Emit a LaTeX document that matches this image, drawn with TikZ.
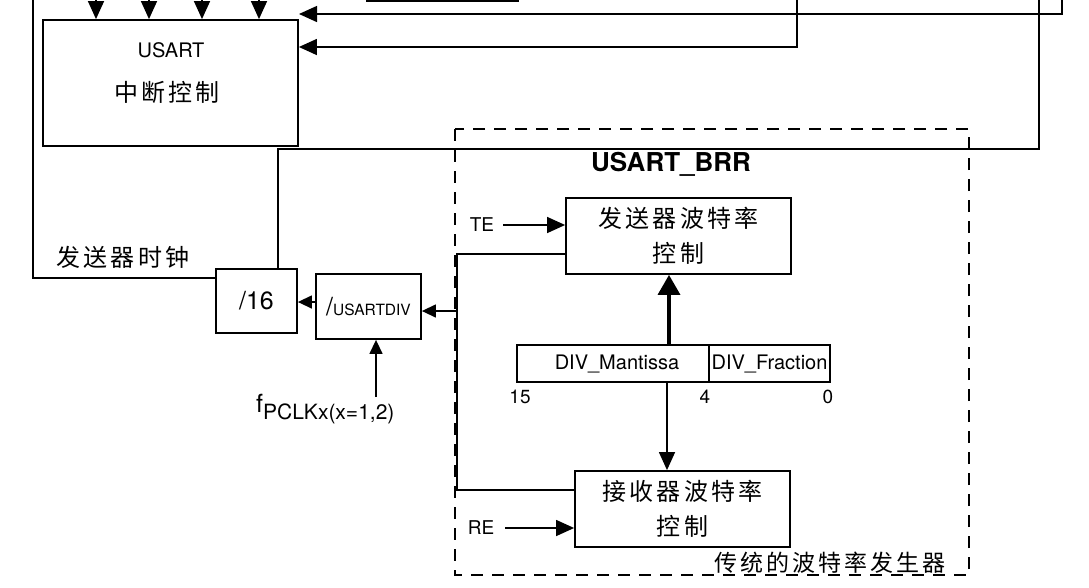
\documentclass[tikz,border=0pt]{standalone}
\usepackage{fontspec}
\setmainfont{TeX Gyre Heros}
\newfontfamily\cjk[LetterSpace=13]{Noto Sans CJK SC}
\usetikzlibrary{arrows.meta}
\tikzset{
  ln/.style={line width=1.4pt},
  box/.style={draw, line width=1.8pt, inner sep=0pt, align=center},
  arr/.style={ln, -{Triangle[length=18pt,width=16pt]}},
  sarr/.style={ln, -{Triangle[length=14pt,width=13pt]}},
  tharr/.style={line width=3.5pt, -{Triangle[length=20pt,width=22pt]}},
  lbl/.style={inner sep=0pt, font=\fontsize{20}{23}\selectfont},
  numlbl/.style={inner sep=0pt, font=\fontsize{19}{21}\selectfont},
  cjklbl/.style={inner sep=0pt, font=\cjk\fontsize{24}{27}\selectfont},
  cjkbox/.style={box, font=\cjk\fontsize{24}{35}\selectfont},
  dbox/.style={line width=2.5pt, dash pattern=on 12pt off 9pt}
}
\begin{document}
\begin{tikzpicture}[x=1pt,y=-1pt]
\useasboundingbox (0,0) rectangle (1089,587);
\clip (0,0) rectangle (1089,587);
\fill[white] (0,0) rectangle (1089,587);

% dashed generator frame
\draw[dbox] (455,129) rectangle (969,575);

% boxes
\node[box, minimum width=255pt, minimum height=126pt] (intr) at (170.5,83) {};
\node[lbl] (usartT) at (171,50) {USART};
\node[cjklbl] (zdkz) at (167,92) {中断控制};
\node[box, minimum width=151pt, minimum height=42pt] (topbox) at (442.5,-20) {};

\node[box, minimum width=81pt, minimum height=64pt, font=\fontsize{25}{28}\selectfont] (div16) at (256.5,301) {/16};
\node[box, minimum width=105pt, minimum height=65pt] (udiv) at (368.5,306.5) {{\fontsize{25}{28}\selectfont /}{\fontsize{15.5}{18}\selectfont USARTDIV}};

\node[cjkbox, minimum width=225pt, minimum height=76pt] (tx) at (678.5,236) {发送器波特率\\控制};
\node[cjkbox, minimum width=215pt, minimum height=76pt] (rx) at (682.5,509) {接收器波特率\\控制};

\node[box, lbl, draw, line width=1.8pt, minimum width=192pt, minimum height=37pt] (mant) at (613,363.5) {\hspace*{8pt}DIV\_Mantissa};
\node[box, lbl, draw, line width=1.8pt, minimum width=121pt, minimum height=37pt] (frac) at (769.5,363.5) {DIV\_Fraction};
\node[numlbl] (b15) at (520,397) {15};
\node[numlbl] (b4) at (705,397) {4};
\node[numlbl] (b0) at (828,397) {0};

\node[inner sep=0pt, font=\bfseries\fontsize{26}{30}\selectfont] (brr) at (671,164) {USART\_BRR};
\node[numlbl] (te) at (482,225) {TE};
\node[numlbl] (re) at (481,528) {RE};
\node[cjklbl] (fsclk) at (123,257) {发送器时钟};
\node[inner sep=0pt, font=\cjk\fontsize{23}{26}\selectfont] (gen) at (830,563) {传统的波特率发生器};
\node[inner sep=0pt, anchor=west] (fclk) at (256,409) {{\fontsize{25}{28}\selectfont f}\raisebox{-7pt}{\fontsize{21}{24}\selectfont PCLKx(x=1,2)}};

% coordinates
\coordinate (a1) at (96,-10);
\coordinate (a2) at (149,-10);
\coordinate (a3) at (202,-10);
\coordinate (a4) at (259,-10);
\coordinate (r1) at (1062,-10);
\coordinate (t1) at (299,14);
\coordinate (r2) at (797,-10);
\coordinate (t2) at (0,47);
\coordinate (r3) at (1039,-10);
\coordinate (j1) at (278,149);
\coordinate (l1) at (33,-10);
\coordinate (l2) at (0,278);
\coordinate (h1) at (0,302);
\coordinate (v1) at (457,254);
\coordinate (v2) at (457,490);
\coordinate (v3) at (457,311);
\coordinate (fa) at (376,397);
\coordinate (m1) at (669,0);
\coordinate (m2) at (667,0);

% connectors
\draw[arr] (a1) -- (a1 |- intr.north);
\draw[arr] (a2) -- (a2 |- intr.north);
\draw[arr] (a3) -- (a3 |- intr.north);
\draw[arr] (a4) -- (a4 |- intr.north);
\draw[arr] (r1) |- (t1);
\draw[arr] (r2) |- (t2 -| intr.east);
\draw[ln] (r3) |- (j1) -- (j1 |- div16.north);
\draw[ln] (l1) |- (l2 -| div16.west);
\draw[sarr] (h1 -| udiv.west) -- (h1 -| div16.east);
\draw[ln] (v1 -| tx.west) -- (v1) -- (v2) -- (v2 -| rx.west);
\draw[sarr] (v3) -- (v3 -| udiv.east);
\draw[sarr] (fa) -- (fa |- udiv.south);
\draw[arr] ([xshift=9pt]te.east) -- (te.east -| tx.west);
\draw[arr] ([xshift=11pt]re.east) -- (re.east -| rx.west);
\draw[tharr] (m1 |- mant.north) -- (m1 |- tx.south);
\draw[arr] (m2 |- mant.south) -- (m2 |- rx.north);
\end{tikzpicture}
\end{document}
